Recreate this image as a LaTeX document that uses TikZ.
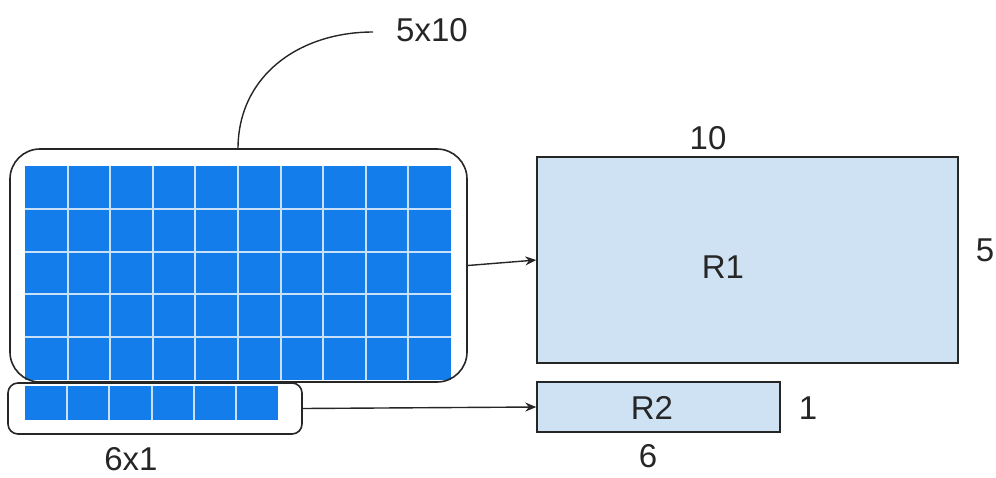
\documentclass[tikz,border=0pt]{standalone}
\usepackage{fontspec}
\setmainfont{Liberation Sans}
\usetikzlibrary{arrows.meta}
\definecolor{gridblue}{RGB}{18,125,235}
\definecolor{gridline}{RGB}{200,225,250}
\definecolor{rfill}{RGB}{207,226,243}
\tikzset{
  frame/.style={draw=black!85, line width=1.6pt, rounded corners=#1, inner sep=0pt},
  rbox/.style={draw=black!85, fill=rfill, line width=1.4pt, inner sep=0pt},
  lbl/.style={font=\fontsize{33}{37}\selectfont, text=black!85, inner sep=0pt},
  conn/.style={draw=black!85, line width=1.4pt, -{Stealth[length=11pt,width=9pt]}},
}
\begin{document}
\begin{tikzpicture}[x=1pt,y=-1pt]
\useasboundingbox (0,0) rectangle (996,477);
% big grid
\fill[gridblue] (25,166) rectangle (451,380);
\foreach \i in {1,...,9} \draw[gridline, line width=2pt] ({25+42.6*\i},166) -- ({25+42.6*\i},380);
\foreach \j in {1,...,4} \draw[gridline, line width=2pt] (25,{166+42.8*\j}) -- (451,{166+42.8*\j});
% small grid
\fill[gridblue] (25,386) rectangle (278,420);
\foreach \i in {1,...,5} \draw[gridline, line width=2pt] ({25+42.2*\i},386) -- ({25+42.2*\i},420);
% frames
\node[frame=30pt, minimum width=457pt, minimum height=233pt] (big) at (238.5,265.5) {};
\node[frame=10pt, minimum width=294pt, minimum height=51pt] (small) at (155,408.5) {};
% result boxes
\node[rbox, minimum width=421pt, minimum height=206pt] (r1) at (747.5,260) {};
\node[rbox, minimum width=243pt, minimum height=50pt] (r2) at (658.5,407) {};
\node[lbl] (r1t) at (723,267) {R1};
\node[lbl] (r2t) at (652,408) {R2};
\node[lbl] (ten) at (708,138) {10};
\node[lbl] (five) at (985,250) {5};
\node[lbl] (one) at (808,408) {1};
\node[lbl] (six) at (648,456) {6};
\node[lbl] (sixone) at (131,459) {6x1};
\node[lbl] (fiveten) at (432,30) {5x10};
% connectors
\draw[conn] (big.east) -- (r1.west);
\draw[conn] (small.east) -- (r2.west);
\coordinate (c1) at (238,149);
\coordinate (c2) at (373,32);
\draw[draw=black!85, line width=1.4pt] (c1) .. controls (238,75) and (300,32) .. (c2);
\end{tikzpicture}
\end{document}
